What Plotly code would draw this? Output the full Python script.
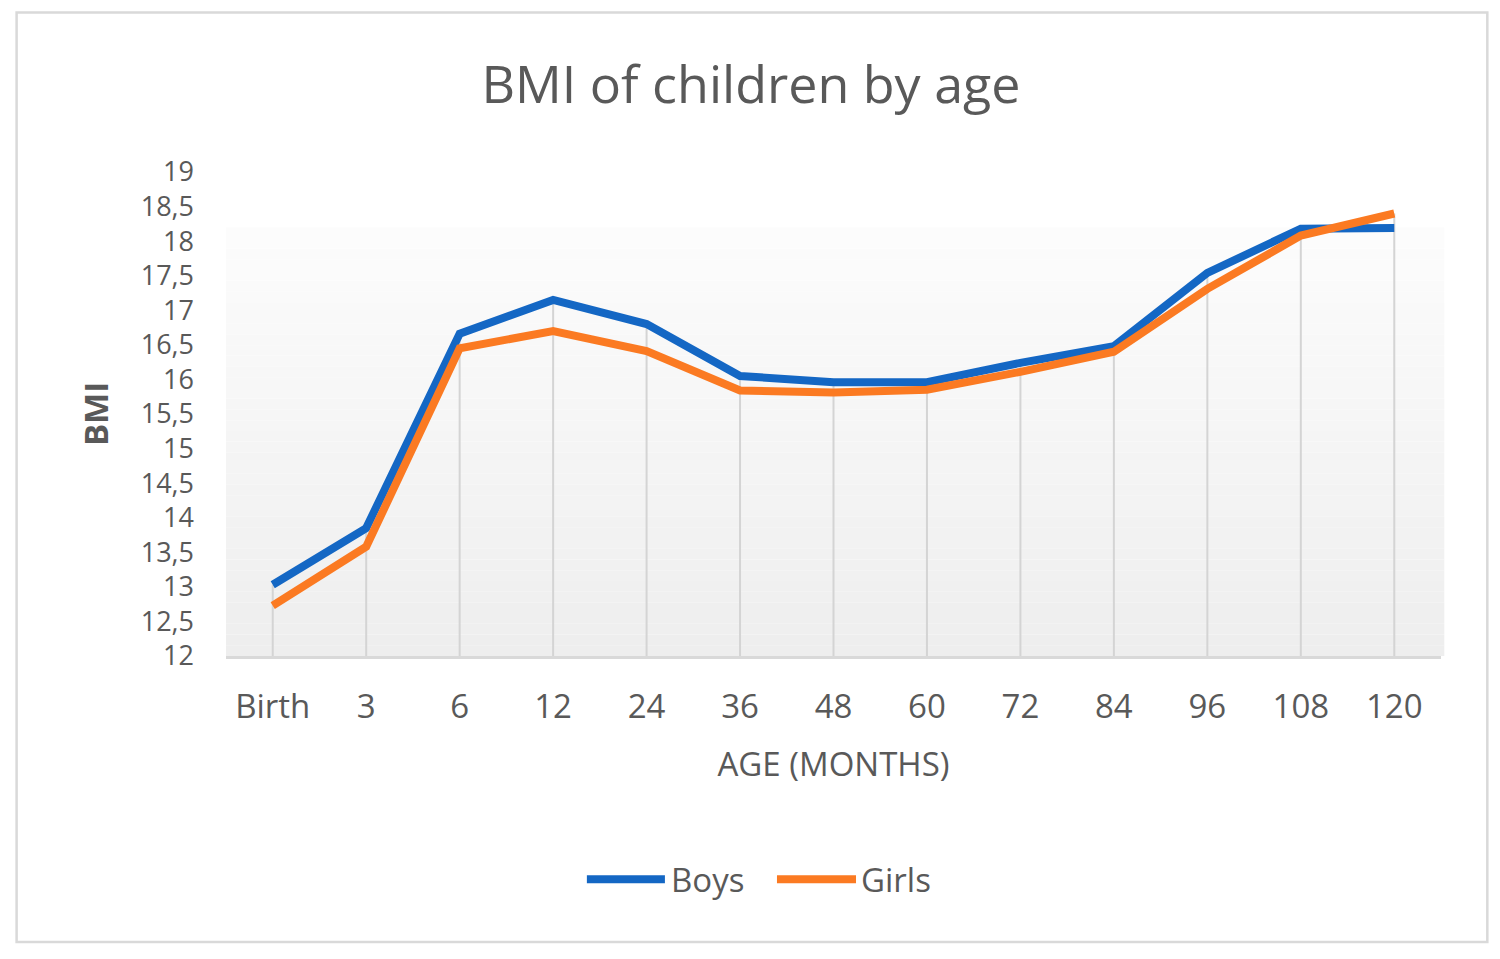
import plotly.graph_objects as go

# ---- data ----
ages = ["Birth", "3", "6", "12", "24", "36", "48", "60", "72", "84", "96", "108", "120"]
boys = [13.03, 13.85, 16.66, 17.15, 16.80, 16.05, 15.96, 15.96, 16.24, 16.48, 17.54, 18.18, 18.19]
girls = [12.73, 13.58, 16.45, 16.70, 16.41, 15.84, 15.81, 15.85, 16.11, 16.40, 17.31, 18.08, 18.40]
y_ticks = [12, 12.5, 13, 13.5, 14, 14.5, 15, 15.5, 16, 16.5, 17, 17.5, 18, 18.5, 19]
y_ticktext = [("%g" % v).replace(".", ",") for v in y_ticks]

BLUE = "#1467c4"
ORANGE = "#fb7a22"
TXT = "#595959"
FONT = "Open Sans"

# page body has an 8px margin; work in screen pixels and convert
OFF = 8
W, H = 1500 - 2 * OFF, 959 - 2 * OFF
PL, PR, PT, PB = 226.3, 1440.7, 171.7, 656.5     # plot area in screen pixels
L, R, T, B = PL - OFF, W - (PR - OFF), PT - OFF, H - (PB - OFF)
pw, ph = PR - PL, PB - PT


def px(x):
    return (x - PL) / pw


def py(y):
    return (PB - y) / ph


fig = go.Figure()

# drop lines from axis to the highest series point
dx, dy = [], []
for a, b, g in zip(ages, boys, girls):
    dx += [a, a, None]
    dy += [y_ticks[0], max(b, g), None]
fig.add_trace(go.Scatter(x=dx, y=dy, mode="lines", line=dict(color="#d4d4d4", width=2),
                         hoverinfo="skip", showlegend=False))

fig.add_trace(go.Scatter(x=ages, y=boys, mode="lines", name="Boys",
                         line=dict(color=BLUE, width=8), showlegend=False))
fig.add_trace(go.Scatter(x=ages, y=girls, mode="lines", name="Girls",
                         line=dict(color=ORANGE, width=8), showlegend=False))

shapes = []
# gradient plot background (bands)
nb = 40
top_px, bot_px = 227, PB
for i in range(nb):
    y0 = bot_px - (bot_px - top_px) * i / nb
    y1 = bot_px - (bot_px - top_px) * (i + 1) / nb
    t = i / (nb - 1)
    c = int(round(238 + (252 - 238) * t))
    shapes.append(dict(type="rect", xref="paper", yref="paper", x0=0, x1=px(1444),
                       y0=py(y0), y1=py(y1), fillcolor="rgb(%d,%d,%d)" % (c, c, c),
                       line=dict(width=0), layer="below"))
# outer border
shapes.append(dict(type="rect", xref="paper", yref="paper", x0=px(17), x1=px(1487),
                   y0=py(943), y1=py(12), line=dict(color="#d9d9d9", width=2.5),
                   fillcolor="rgba(0,0,0,0)", layer="below"))

# custom legend
annotations = []
leg_y = py(880)
for name, col, x0, x1, xt in [("Boys", BLUE, 587, 665, 669), ("Girls", ORANGE, 777, 856, 859)]:
    shapes.append(dict(type="line", xref="paper", yref="paper", x0=px(x0), x1=px(x1),
                       y0=leg_y, y1=leg_y, line=dict(color=col, width=8)))
    annotations.append(dict(text=name, xref="paper", yref="paper", x=px(xt), y=leg_y,
                            xanchor="left", yanchor="middle", showarrow=False,
                            font=dict(size=33, color=TXT, family=FONT)))

fig.update_layout(
    width=W, height=H,
    margin=dict(l=L, r=R, t=T, b=B),
    paper_bgcolor="white", plot_bgcolor="rgba(0,0,0,0)",
    title=dict(text="BMI of children by age", x=px(751), xref="paper", xanchor="center",
               y=1 - (85 - OFF) / H, yref="container", yanchor="middle",
               font=dict(size=52, color=TXT, family=FONT)),
    font=dict(family=FONT, color=TXT),
    shapes=shapes, annotations=annotations,
    showlegend=False,
)
fig.update_xaxes(type="category", categoryorder="array", categoryarray=ages,
                 range=[-0.5, len(ages) - 0.5], showgrid=False, zeroline=False,
                 showline=True, linecolor="#d9d9d9", linewidth=2.5, ticks="",
                 tickfont=dict(size=33, color=TXT, family=FONT), ticklabelstandoff=20,
                 title=dict(text="AGE (MONTHS)", font=dict(size=33, color=TXT, family=FONT), standoff=26))
fig.update_yaxes(range=[y_ticks[0], y_ticks[-1]], tickvals=y_ticks, ticktext=y_ticktext,
                 showgrid=False, zeroline=False, showline=False, ticks="",
                 tickfont=dict(size=27, color=TXT, family=FONT), ticklabelstandoff=31,
                 title=dict(text="<b>BMI</b>", font=dict(size=33, color=TXT, family=FONT), standoff=22))

fig.write_html("out.html")
